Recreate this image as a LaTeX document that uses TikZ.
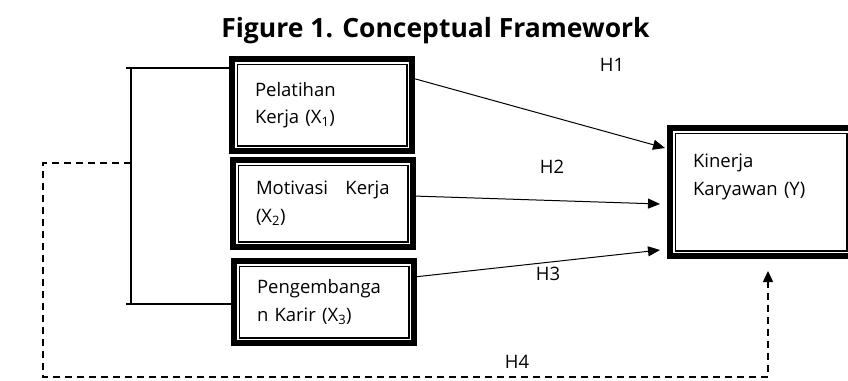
\documentclass[tikz,border=0pt]{standalone}
\usepackage{fontspec}
\setmainfont{Open Sans}
\usetikzlibrary{arrows.meta, calc}

\tikzset{
  varbox/.style={draw, line width=6pt, outer sep=0pt, minimum width=180pt, text width=134pt, inner xsep=23pt, align=left, font=\fontsize{18.5}{27.5}\selectfont},
  innerline/.style={line width=1.5pt},
  hyp/.style={font=\fontsize{18.5}{22}\selectfont, anchor=base},
  linkarrow/.style={line width=1pt, -{Triangle[length=12pt,width=10pt]}},
  bracketline/.style={line width=2.5pt},
  dashline/.style={line width=1.5pt, dash pattern=on 7pt off 5pt, -{Triangle[length=11pt,width=10pt]}}
}

\begin{document}
\begin{tikzpicture}[x=1pt,y=-1pt]
\useasboundingbox (0,0) rectangle (848,380);
\node[font=\bfseries\fontsize{26.5}{30}\selectfont, anchor=base] (title) at (435.5,37) {Figure 1. Conceptual Framework};
% variables
\node[varbox, minimum height=92pt] (x1) at (322,105) {Pelatihan\\Kerja (X\textsubscript{1})};
\node[varbox, minimum height=87pt] (x2) at (323,203.5) {Motivasi\hspace{0.6em} Kerja\\(X\textsubscript{2})};
\node[varbox, minimum height=82pt] (x3) at (324,302) {Pengembanga\\n Karir (X\textsubscript{3})};
\node[varbox, minimum width=182pt, text width=136pt, minimum height=128pt, text depth=62pt] (y) at (761,192) {Kinerja\\Karyawan (Y)};
\foreach \n in {x1,x2,x3,y}
  \draw[innerline] ($(\n.north west)+(5.25,5.25)$) rectangle ($(\n.south east)+(-5.25,-5.25)$);
% bracket
\coordinate (btop) at (131,68);
\coordinate (bbot) at (131,304);
\coordinate (bmid) at (131,163);
\draw[bracketline] (btop) -- (bbot);
\draw[bracketline] ([xshift=-5pt]btop) -- (x1.west |- btop);
\draw[bracketline] ([xshift=-5pt]bbot) -- (x3.west |- bbot);
% hypotheses
\draw[linkarrow] ([yshift=27pt]x1.east) -- ([xshift=-5pt,yshift=44pt]y.west);
\draw[linkarrow] ([yshift=7.5pt]x2.east) -- ([xshift=-10pt,yshift=-12pt]y.west);
\draw[linkarrow] ([yshift=25pt]x3.east) -- ([xshift=-10pt,yshift=-58pt]y.west);
\coordinate (dcorner) at (43,377);
\coordinate (yin) at ([xshift=7pt,yshift=-15pt]y.south);
\draw[dashline] (bmid) -| (dcorner) -| (yin);
\node[hyp] (h1) at (612,71) {H1};
\node[hyp] (h2) at (552,173) {H2};
\node[hyp] (h3) at (548,280) {H3};
\node[hyp] (h4) at (517,368) {H4};
\end{tikzpicture}
\end{document}
